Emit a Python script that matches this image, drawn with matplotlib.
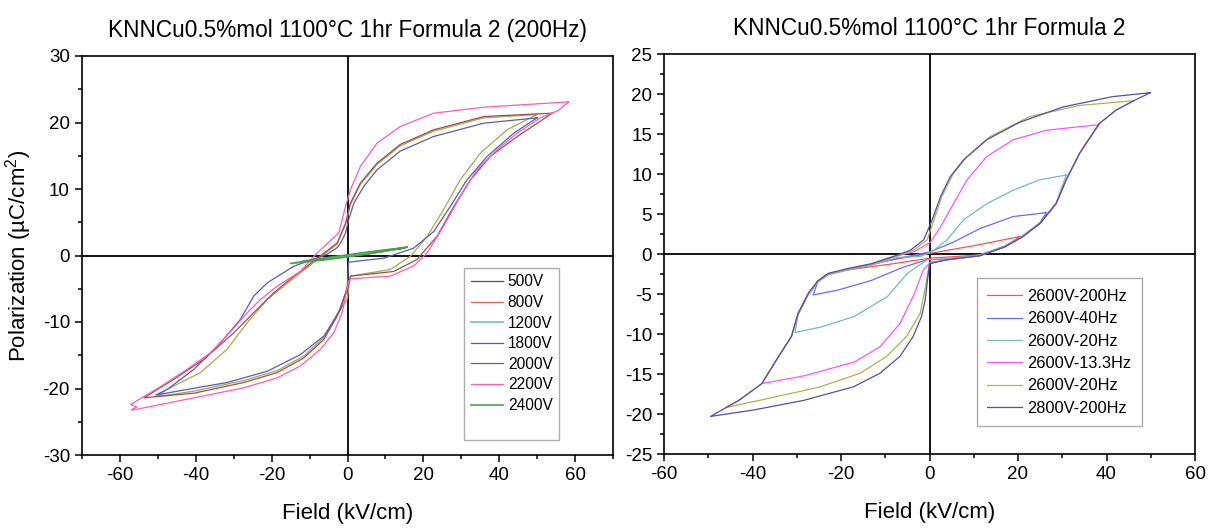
import matplotlib
matplotlib.use("Agg")
import matplotlib.pyplot as plt
from matplotlib.ticker import MultipleLocator

plt.rcParams['font.family'] = ['Liberation Sans', 'DejaVu Sans']
plt.rcParams['mathtext.default'] = 'regular'
plt.rcParams['axes.unicode_minus'] = False

# ---------------- Left panel data (200 Hz, various voltages) ----------------
left_title = "KNNCu0.5%mol 1100°C 1hr Formula 2 (200Hz)"
right_title = "KNNCu0.5%mol 1100°C 1hr Formula 2"

v500_E = [15.0, 5.0, -5.0, -12.0, -5.0, 5.0, 15.0]
v500_P = [1.1, 0.35, -0.35, -0.9, -0.5, 0.2, 1.1]
v800_E = [10.0, 3.0, -3.0, -9.0, -3.0, 3.0, 10.0]
v800_P = [0.7, 0.2, -0.25, -0.6, -0.3, 0.15, 0.7]
v1200_E = [12.0, 4.0, -4.0, -11.0, -4.0, 4.0, 12.0]
v1200_P = [0.9, 0.3, -0.3, -0.8, -0.4, 0.2, 0.9]

v1800_E = [49.9, 35.9, 22.7, 13.9, 7.8, 4.3, 1.7, 0.3, -0.5, -1.8, -2.7, -5.3, -14.1, -21.1, -24.7, -28.2,
           -33.4, -40.4, -47.4, -50.5, -44.8, -31.7, -21.1, -12.4, -6.2, -1.8, -0.1, 0.3, 9.6, 17.4, 22.7,
           27.1, 31.5, 36.8, 43.8, 49.9]
v1800_P = [20.7, 19.9, 17.9, 15.7, 12.9, 10.4, 7.9, 5.4, 3.4, 1.9, 1.2, 0.2, -1.6, -4.1, -6.1, -9.6,
           -13.1, -17.1, -20.1, -21.0, -20.4, -19.1, -17.4, -14.9, -12.1, -8.1, -4.9, -1.0, -0.4, 1.1, 3.6,
           7.4, 11.4, 14.9, 18.4, 20.7]

v2000_E = [53.9, 35.9, 22.7, 13.9, 7.8, 3.4, 0.8, -0.5, -2.7, -10.6, -14.1, -19.4, -24.7, -29.9, -37.8,
           -45.7, -53.6, -40.4, -27.3, -18.5, -11.5, -6.2, -2.7, -0.5, 0.8, 12.2, 18.3, 23.6, 28.0, 32.4,
           37.6, 44.7, 50.8, 53.9]
v2000_P = [21.4, 20.9, 18.9, 16.7, 13.9, 10.9, 7.9, 4.9, 1.9, -1.6, -3.1, -5.6, -8.6, -11.6, -15.6,
           -18.6, -21.4, -20.7, -19.1, -17.6, -15.4, -12.6, -9.1, -5.6, -3.1, -2.4, -0.6, 2.9, 7.4, 11.4,
           14.9, 17.9, 20.2, 21.4]

olive_E = [49.9, 35.9, 22.7, 13.9, 7.8, 3.4, 0.8, -0.5, -2.7, -12.4, -21.1, -26.4, -31.7, -38.7, -47.4,
           -50.1, -40.4, -27.3, -18.5, -11.5, -6.2, -2.7, -0.1, 0.8, 11.3, 16.6, 21.0, 25.3, 29.7, 35.0,
           42.0, 49.9]
olive_P = [21.2, 20.7, 18.7, 16.5, 13.7, 10.7, 7.7, 4.7, 1.7, -2.6, -6.6, -10.1, -14.1, -17.6, -20.1,
           -21.2, -20.4, -18.8, -17.3, -15.1, -12.3, -8.8, -6.6, -3.1, -2.1, -0.1, 2.9, 6.9, 11.4, 15.4,
           18.9, 21.2]

v2200_E = [58.2, 35.9, 22.7, 13.9, 7.8, 3.4, 0.8, -0.5, -2.3, -8.4, -12.4, -18.5, -22.9, -26.4, -29.9,
           -36.0, -42.2, -49.2, -57.1, -55.5, -57.0, -56.2, -40.4, -27.3, -18.5, -12.4, -7.1, -3.6, -1.4,
           0.3, 0.8, 11.3, 17.4, 21.0, 25.3, 29.7, 34.1, 39.4, 44.7, 50.8, 55.5, 58.2]
v2200_P = [23.1, 22.3, 21.4, 19.4, 16.9, 13.4, 9.9, 7.4, 3.4, 0.15, -2.4, -4.6, -6.6, -8.6, -10.9,
           -14.6, -17.1, -19.7, -22.4, -22.8, -23.2, -23.2, -21.4, -19.9, -18.4, -16.6, -14.1, -11.6, -8.6,
           -3.9, -3.5, -3.1, -1.6, 0.4, 4.4, 8.9, 12.9, 15.9, 18.4, 20.7, 21.8, 23.1]

v2400_E = [15.7, 5.0, -5.0, -15.0, -5.0, 5.0, 15.7]
v2400_P = [1.25, 0.5, -0.3, -1.2, -0.6, 0.2, 1.25]

left_labels = ["500V", "800V", "1200V", "1800V", "2000V", "2200V", "2400V"]

# ---------------- Right panel data ----------------
r200_E = [20.4, 11.4, 0.2, -9.5, -18.8, -9.5, 0.2, 11.4, 17.0, 20.4]
r200_P = [2.2, 1.2, 0.1, -0.8, -2.0, -1.3, -0.5, -0.1, 0.9, 2.2]

r40_E = [26.4, 18.9, 11.4, 5.4, 0.2, -5.0, -13.2, -18.5, -22.9, -25.2, -26.3, -20.7, -13.2, -5.8, -0.5,
         4.0, 11.4, 17.0, 21.1, 24.9, 26.4]
r40_P = [5.2, 4.7, 3.2, 1.5, 0.3, -0.3, -1.3, -1.9, -2.5, -3.4, -5.1, -4.5, -3.3, -1.6, -0.7,
         -0.6, -0.1, 1.0, 2.3, 3.9, 5.2]

r20_E = [30.9, 24.9, 18.9, 12.9, 7.7, 4.0, 1.0, -2.0, -7.2, -13.2, -18.5, -22.9, -25.2, -27.4, -29.7,
         -30.4, -24.4, -17.0, -9.5, -5.0, -0.5, 4.0, 11.4, 17.0, 21.1, 24.9, 28.6, 30.9]
r20_P = [9.9, 9.3, 8.0, 6.3, 4.3, 1.8, 0.5, -0.3, -0.4, -1.4, -2.0, -2.6, -3.5, -5.1, -7.6,
         -9.8, -9.1, -7.8, -5.3, -2.4, -0.7, -0.6, -0.1, 1.0, 2.3, 3.9, 6.4, 9.9]

r13_E = [38.3, 26.4, 18.9, 12.9, 8.5, 5.4, 2.5, 0.2, -3.5, -7.2, -13.2, -18.5, -22.9, -25.2, -27.4, -29.7,
         -31.2, -34.1, -37.9, -28.2, -17.0, -11.2, -6.7, -3.7, -1.4, 0.2, 4.0, 11.4, 17.0, 21.1, 24.9,
         28.6, 30.9, 33.9, 38.3]
r13_P = [16.2, 15.5, 14.3, 12.2, 9.3, 6.3, 3.4, 1.5, 0.3, -0.2, -1.3, -1.9, -2.5, -3.4, -5.0, -7.5,
         -10.3, -12.8, -16.2, -15.2, -13.5, -11.6, -8.7, -5.3, -2.0, -1.0, -0.7, -0.2, 0.9, 2.2, 3.8,
         6.3, 9.3, 12.6, 16.2]

r20b_E = [46.2, 33.9, 22.6, 13.7, 8.5, 5.4, 2.8, 1.0, -0.5, -3.6, -7.2, -13.2, -18.5, -22.9, -25.2, -27.4,
          -29.7, -31.2, -34.1, -37.9, -43.1, -46.1, -36.0, -24.7, -15.7, -9.7, -5.2, -2.1, -1.0, 0.0, 4.0,
          11.4, 17.0, 21.1, 24.9, 28.6, 30.9, 33.9, 38.3, 42.1, 46.2]
r20b_P = [19.2, 18.6, 17.2, 14.7, 12.2, 10.1, 7.2, 4.3, 1.8, 0.5, -0.2, -1.3, -1.9, -2.5, -3.4, -5.0,
          -7.5, -10.3, -12.8, -16.2, -18.3, -19.2, -18.0, -16.6, -14.9, -12.8, -10.3, -7.4, -4.3, -1.1, -0.7,
          -0.2, 0.9, 2.2, 3.8, 6.3, 9.3, 12.6, 16.3, 18.0, 19.2]

r2800_E = [49.9, 41.3, 30.1, 20.4, 12.9, 7.7, 4.7, 2.5, 0.6, -1.3, -4.3, -7.2, -13.2, -18.5, -22.9, -25.2,
           -27.4, -29.7, -31.2, -34.1, -37.9, -43.1, -49.5, -39.8, -28.5, -17.2, -11.2, -6.7, -3.7, -1.8,
           -1.0, 0.0, 4.0, 11.4, 17.0, 21.1, 24.9, 28.6, 30.9, 33.9, 38.3, 42.1, 46.2, 49.9]
r2800_P = [20.2, 19.7, 18.4, 16.5, 14.3, 11.8, 9.7, 7.2, 4.3, 1.8, 0.5, -0.1, -1.2, -1.8, -2.4, -3.3,
           -4.9, -7.4, -10.3, -12.8, -16.2, -18.3, -20.3, -19.5, -18.3, -16.6, -14.9, -12.8, -10.3, -7.8,
           -5.8, -1.2, -0.7, -0.2, 0.9, 2.2, 3.8, 6.3, 9.3, 12.6, 16.3, 18.0, 19.2, 20.2]

right_labels = ["2600V-200Hz", "2600V-40Hz", "2600V-20Hz", "2600V-13.3Hz", "2600V-20Hz", "2800V-200Hz"]

# ---------------- Figure ----------------
W, H = 1215, 531
fig = plt.figure(figsize=(W / 100, H / 100), dpi=100)

axL = fig.add_axes([81.7 / W, 1 - 455 / H, 531.6 / W, 399 / H])
axR = fig.add_axes([664 / W, 1 - 454 / H, 531 / W, 399.7 / H])

lw = 0.9
axL.plot(v500_E, v500_P, color='#505050', lw=lw, label=left_labels[0])
axL.plot(v800_E, v800_P, color='#e86060', lw=lw, label=left_labels[1])
axL.plot(v1200_E, v1200_P, color='#80cccc', lw=1.4, label=left_labels[2])
axL.plot(olive_E, olive_P, color='#a8a850', lw=lw, label='_nolegend_')
axL.plot(v1800_E, v1800_P, color='#5a5ab8', lw=lw, label=left_labels[3])
axL.plot(v2000_E, v2000_P, color='#9a5050', lw=lw, label=left_labels[4])
axL.plot(v2200_E, v2200_P, color='#ff5ab4', lw=lw, label=left_labels[5])
axL.plot(v2400_E, v2400_P, color='#4aa04a', lw=1.2, label=left_labels[6])
axL.plot([], [], color='none', label=' ')

axR.plot(r200_E, r200_P, color='#ff5050', lw=lw, label=right_labels[0])
axR.plot(r40_E, r40_P, color='#6a6aff', lw=lw, label=right_labels[1])
axR.plot(r20_E, r20_P, color='#70bcbc', lw=lw, label=right_labels[2])
axR.plot(r13_E, r13_P, color='#ff50ff', lw=lw, label=right_labels[3])
axR.plot(r20b_E, r20b_P, color='#b0b050', lw=lw, label=right_labels[4])
axR.plot(r2800_E, r2800_P, color='#5050a8', lw=lw, label=right_labels[5])

for ax in (axL, axR):
    ax.axhline(0, color='black', lw=1.3, zorder=1)
    ax.axvline(0, color='black', lw=1.3, zorder=1)
    for s in ax.spines.values():
        s.set_linewidth(1.2)
    ax.tick_params(which='both', direction='out', top=False, right=False, labelsize=13.5,
                   width=1.1, colors='black')
    ax.tick_params(which='major', length=5)
    ax.tick_params(which='minor', length=3)
    ax.xaxis.set_major_locator(MultipleLocator(20))
    ax.xaxis.set_minor_locator(MultipleLocator(10))
    ax.set_xlabel("Field (kV/cm)", fontsize=16, labelpad=14)

axL.set_xlim(-70, 70)
axL.set_ylim(-30, 30)
axL.yaxis.set_major_locator(MultipleLocator(10))
axL.yaxis.set_minor_locator(MultipleLocator(5))
axL.set_ylabel("Polarization (µC/cm$^{2}$)", fontsize=16, labelpad=6)
axL.set_title(left_title, fontsize=16.3, pad=14)

axR.set_xlim(-60, 60)
axR.set_ylim(-25, 25)
axR.yaxis.set_major_locator(MultipleLocator(5))
axR.yaxis.set_minor_locator(MultipleLocator(2.5))
axR.set_title(right_title, fontsize=16.3, pad=14)

legL = axL.legend(loc='upper left', bbox_to_anchor=(0.7197, 0.468), fontsize=11.2, frameon=True,
                  fancybox=False, edgecolor='#999999', handlelength=2.1, handletextpad=0.3,
                  labelspacing=0.36, borderpad=0.4, borderaxespad=0)
legL.get_frame().set_linewidth(1.0)
legR = axR.legend(loc='upper left', bbox_to_anchor=(0.589, 0.4396), fontsize=11.8, frameon=True,
                  fancybox=False, edgecolor='#999999', handlelength=2.1, handletextpad=0.3,
                  labelspacing=0.45, borderpad=0.65, borderaxespad=0)
legR.get_frame().set_linewidth(1.0)

fig.savefig("out.png", dpi=100)
